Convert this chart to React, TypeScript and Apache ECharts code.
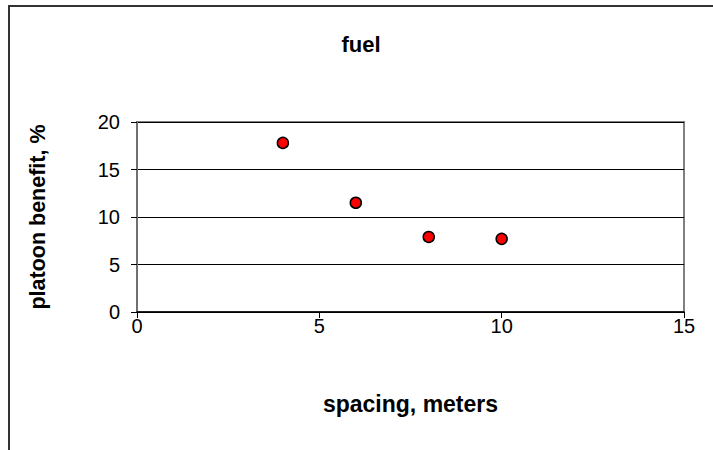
import React, { useEffect, useRef } from "react";
import * as echarts from "echarts";

const spacing: number[] = [4, 6, 8, 10];
const benefit: number[] = [17.8, 11.5, 7.9, 7.7];
const xTicks = { min: 0, max: 15, interval: 5 };
const yTicks = { min: 0, max: 20, interval: 5 };
const titleText = "fuel";
const xName = "spacing, meters";
const yName = "platoon benefit, %";

export default function App() {
  const ref = useRef<HTMLDivElement>(null);
  useEffect(() => {
    if (!ref.current) return;
    const chart = echarts.init(ref.current, undefined, { renderer: "svg" });
    const font = "'Liberation Sans', Arial, sans-serif";
    chart.setOption({
      animation: false,
      backgroundColor: "#ffffff",
      title: {
        text: titleText,
        left: 356,
        top: 28,
        textAlign: "center",
        textStyle: { fontFamily: font, fontSize: 22, fontWeight: "bold", color: "#000" },
      },
      graphic: [
        {
          type: "rect",
          z: -1,
          shape: { x: 9, y: 6, width: 800, height: 600 },
          style: { fill: "none", stroke: "#333333", lineWidth: 2 },
        },
      ],
      grid: {
        left: 137,
        top: 122,
        right: 29,
        bottom: 138,
        show: true,
        borderColor: "#808080",
        borderWidth: 2,
        backgroundColor: "transparent",
      },
      xAxis: {
        type: "value",
        min: xTicks.min,
        max: xTicks.max,
        interval: xTicks.interval,
        name: xName,
        nameLocation: "middle",
        nameGap: 80,
        nameTextStyle: { fontFamily: font, fontSize: 23, fontWeight: "bold", color: "#000" },
        axisLine: { show: true, onZero: false, lineStyle: { color: "#000", width: 1.5 } },
        axisTick: { show: true, inside: false, length: 6, lineStyle: { color: "#000", width: 1 } },
        axisLabel: { fontFamily: font, fontSize: 20, color: "#000", margin: 4 },
        splitLine: { show: false },
      },
      yAxis: {
        type: "value",
        min: yTicks.min,
        max: yTicks.max,
        interval: yTicks.interval,
        name: yName,
        nameLocation: "middle",
        nameGap: 88,
        nameTextStyle: { fontFamily: font, fontSize: 21.5, fontWeight: "bold", color: "#000" },
        axisLine: { show: true, onZero: false, lineStyle: { color: "#707070", width: 2 } },
        axisTick: { show: true, inside: false, length: 6, lineStyle: { color: "#000", width: 1 } },
        axisLabel: { fontFamily: font, fontSize: 20, color: "#000", margin: 17 },
        splitLine: { show: true, lineStyle: { color: "#000", width: 1 } },
      },
      series: [
        {
          type: "scatter",
          data: spacing.map((x, i) => [x, benefit[i]]),
          symbol: "circle",
          symbolSize: 11,
          itemStyle: { color: "#ff0000", borderColor: "#000", borderWidth: 1.5, opacity: 1 },
        },
      ],
    });
    return () => chart.dispose();
  }, []);
  return (
    <div
      ref={ref}
      style={{ position: "fixed", left: 0, top: 0, width: 713, height: 450 }}
    />
  );
}
